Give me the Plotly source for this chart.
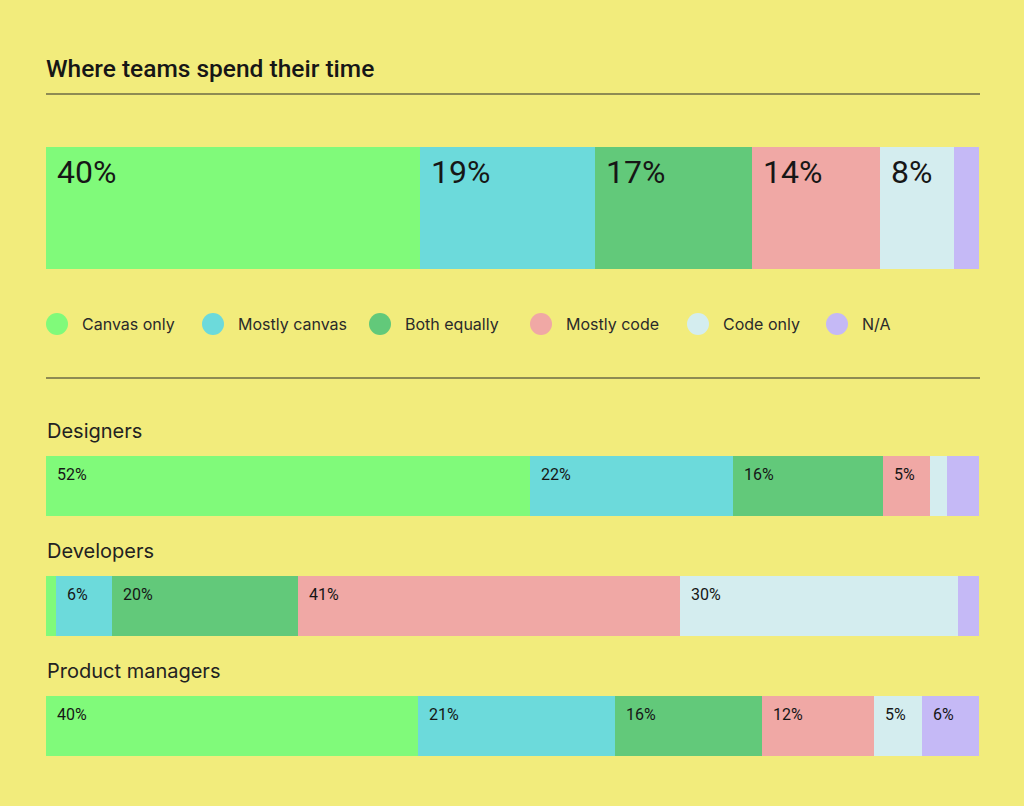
import plotly.graph_objects as go

# ---------------- data ----------------
categories = ["Canvas only", "Mostly canvas", "Both equally", "Mostly code", "Code only", "N/A"]
overall = [40.0, 18.7, 16.8, 13.7, 7.9, 2.7]
groups = ["Designers", "Developers", "Product managers"]
designers = [51.8, 21.8, 16.0, 5.0, 1.9, 3.4]
developers = [1.1, 6.0, 19.9, 40.9, 29.8, 2.3]
product_managers = [39.8, 21.1, 15.8, 12.0, 5.1, 6.1]
group_values = [designers, developers, product_managers]
title_text = "Where teams spend their time"

# ---------------- style ----------------
colors = ["#80FA7A", "#6CDADB", "#62C97A", "#F0A8A5", "#D4EDEF", "#C5B9F6"]
BG = "#F2EC7C"
INK = "#161616"
W, H = 1024, 806
FONT = "Roboto"
FONT2 = "Inter"

def py(p):  # pixel y (top-origin) -> paper
    return 1 - p / H

def px(p):
    return p / W

X0, X1 = 46, 979
bar_boxes = [(147, 269), (456, 516), (576, 636), (696, 756)]  # top, bottom pixels
label_y = [431, 551, 671]
legend_x = [57, 213, 380, 541, 698, 837]
legend_y = 324

fig = go.Figure()
series_list = [overall] + group_values
annotations = []
for i, vals in enumerate(series_list):
    ax = "" if i == 0 else str(i + 1)
    total = sum(vals)
    start = 0.0
    for j, v in enumerate(vals):
        fig.add_trace(go.Bar(
            x=[v], y=[0], orientation="h",
            marker=dict(color=colors[j], line=dict(width=0)),
            xaxis="x" + ax, yaxis="y" + ax, width=1, showlegend=False,
            hovertemplate=f"{categories[j]}: {v:.0f}%<extra></extra>",
        ))
        if round(v) >= 5:
            big = i == 0
            annotations.append(dict(
                x=start, y=0.5, xref="x" + ax, yref="y" + ax,
                xanchor="left", yanchor="top",
                xshift=9 if big else 9, yshift=-4 if big else -7,
                text=f"{round(v)}%", showarrow=False,
                font=dict(family=FONT, size=32 if big else 16, color=INK,
                          weight=400),
            ))
        start += v
    top, bot = bar_boxes[i]
    fig.layout["xaxis" + ax] = dict(domain=[px(X0), px(X1)], range=[0, total],
                                    visible=False, fixedrange=True,
                                    anchor="y" + ax)
    fig.layout["yaxis" + ax] = dict(domain=[py(bot), py(top)], range=[-0.5, 0.5],
                                    visible=False, fixedrange=True,
                                    anchor="x" + ax)

fig.update_layout(barmode="stack", bargap=0)

# title
annotations.append(dict(x=px(X0 - 2), y=py(68), xref="paper", yref="paper",
                        xanchor="left", yanchor="middle", showarrow=False,
                        text=title_text,
                        font=dict(family=FONT, size=24.5, color=INK, weight=500)))
# group labels
for g, yy in zip(groups, label_y):
    annotations.append(dict(x=px(X0 - 1), y=py(yy), xref="paper", yref="paper",
                            xanchor="left", yanchor="middle", showarrow=False,
                            text=g, font=dict(family=FONT2, size=20, color="#222222")))

shapes = []
# rules
for yy in (94, 378):
    shapes.append(dict(type="line", xref="paper", yref="paper",
                       x0=px(X0), x1=px(980), y0=py(yy), y1=py(yy),
                       line=dict(color="#2a2a2a", width=1)))
# legend
R = 11
for c, col, lx in zip(categories, colors, legend_x):
    shapes.append(dict(type="circle", xref="paper", yref="paper",
                       x0=px(lx - R), x1=px(lx + R), y0=py(legend_y + R), y1=py(legend_y - R),
                       fillcolor=col, line=dict(width=0)))
    annotations.append(dict(x=px(lx + 23), y=py(legend_y), xref="paper", yref="paper",
                            xanchor="left", yanchor="middle", showarrow=False,
                            text=c, font=dict(family=FONT2, size=16, color="#2a2a2a")))

fig.update_layout(
    width=W, height=H, margin=dict(l=0, r=0, t=0, b=0),
    paper_bgcolor=BG, plot_bgcolor=BG,
    annotations=annotations, shapes=shapes, showlegend=False,
)
fig.write_html("out.html", config={"displayModeBar": False})
